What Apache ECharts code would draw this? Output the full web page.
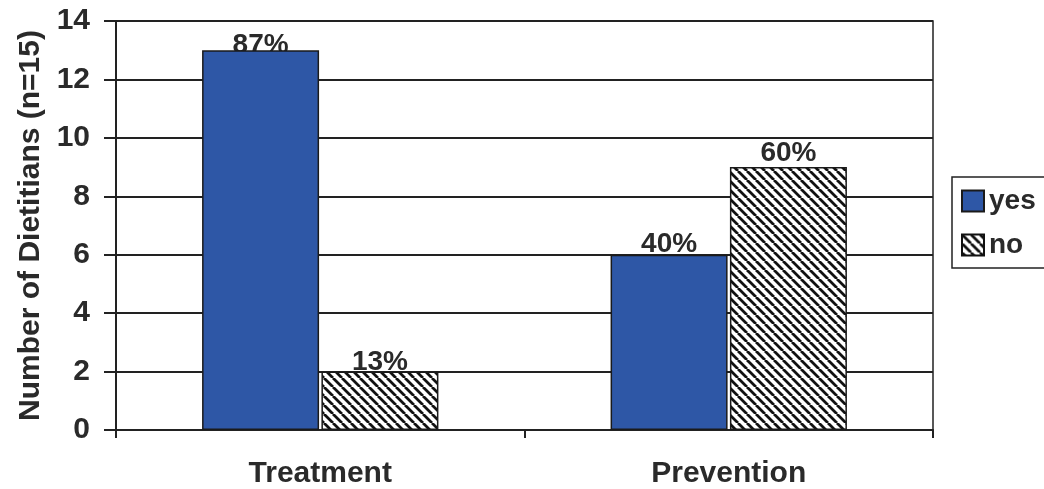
<!DOCTYPE html>
<html>
<head>
<meta charset="utf-8">
<script src="https://cdn.jsdelivr.net/npm/echarts@6/dist/echarts.min.js"></script>
<style>
  html, body { margin: 0; padding: 0; background: #fff; }
  #chart { width: 1044px; height: 489px; }
</style>
</head>
<body>
<div id="chart"></div>
<script>
// Survey counts: dietitians reporting yes / no per area
const categories = ['Treatment', 'Prevention'];
const yesValues = [13, 6];
const noValues = [2, 9];
const yesLabels = ['87%', '40%'];
const noLabels = ['13%', '60%'];
const yTicks = [0, 2, 4, 6, 8, 10, 12, 14];

// label offsets (px) relative to each bar top; negative tucks the text behind the bar
const yesLabelShift = [-9, -4];
const noLabelShift = [-5, 0];

// Diagonal hatch fill for the "no" series
function hatchPattern() {
  const s = 9;
  const c = document.createElement('canvas');
  c.width = s; c.height = s;
  const g = c.getContext('2d');
  g.fillStyle = '#fff';
  g.fillRect(0, 0, s, s);
  g.strokeStyle = '#111';
  g.lineWidth = 2.8;
  g.beginPath();
  for (let k = -1; k <= 1; k++) {
    g.moveTo(k * s, 0);
    g.lineTo(k * s + s, s);
  }
  g.stroke();
  return c;
}

const FONT = 'Liberation Sans, Arial, sans-serif';
const textColor = '#2a2a2a';
const lineColor = '#222';
const hatch = { image: hatchPattern(), repeat: 'repeat' };
const BAR_W = 117;
const GAP = '2%';

function labelItems(values, texts, shifts) {
  return values.map((v, i) => ({
    value: v,
    label: { formatter: texts[i], distance: shifts[i] }
  }));
}

const labelStyle = {
  show: true, position: 'top',
  fontFamily: FONT, fontWeight: 'bold', fontSize: 28, color: textColor
};

const chart = echarts.init(document.getElementById('chart'), null, { renderer: 'canvas' });

chart.setOption({
  animation: false,
  backgroundColor: '#fff',
  grid: {
    left: 116, right: 111, top: 21, bottom: 59,
    show: true, borderColor: lineColor, borderWidth: 1.5
  },
  legend: {
    orient: 'vertical',
    left: 952, top: 177,
    padding: [10, 40, 9, 9],
    itemWidth: 22, itemHeight: 21,
    itemGap: 16,
    borderColor: lineColor, borderWidth: 1.5,
    textStyle: { fontFamily: FONT, fontWeight: 'bold', fontSize: 28, lineHeight: 24, color: textColor },
    data: [
      { name: 'yes', icon: 'rect' },
      { name: 'no', icon: 'rect', itemStyle: { borderColor: '#111', borderWidth: 2 } }
    ]
  },
  xAxis: [
    {
      type: 'category',
      data: categories,
      axisLine: { show: true, lineStyle: { color: lineColor, width: 2 } },
      axisTick: { show: true, alignWithLabel: false, length: 8, lineStyle: { color: lineColor, width: 2 } },
      axisLabel: { fontFamily: FONT, fontWeight: 'bold', fontSize: 30, color: textColor, margin: 29 }
    },
    {
      // twin axis carrying the value labels, drawn beneath the bars
      type: 'category',
      data: categories,
      show: false
    }
  ],
  yAxis: {
    type: 'value',
    min: yTicks[0], max: yTicks[yTicks.length - 1], interval: 2,
    name: 'Number of Dietitians (n=15)',
    nameLocation: 'middle',
    nameGap: 70,
    nameTextStyle: { fontFamily: FONT, fontWeight: 'bold', fontSize: 30, color: textColor },
    axisLine: { show: true, lineStyle: { color: lineColor, width: 2 } },
    axisTick: { show: true, length: 12, lineStyle: { color: lineColor, width: 2 } },
    axisLabel: { fontFamily: FONT, fontWeight: 'bold', fontSize: 30, color: textColor, margin: 26 },
    splitLine: { show: true, lineStyle: { color: lineColor, width: 2 } }
  },
  series: [
    {
      name: 'yes-label',
      type: 'bar',
      xAxisIndex: 1,
      z: 1,
      data: labelItems(yesValues, yesLabels, yesLabelShift),
      barWidth: BAR_W, barGap: GAP,
      itemStyle: { color: 'rgba(0,0,0,0)' },
      label: labelStyle,
      silent: true
    },
    {
      name: 'no-label',
      type: 'bar',
      xAxisIndex: 1,
      z: 1,
      data: labelItems(noValues, noLabels, noLabelShift),
      barWidth: BAR_W,
      itemStyle: { color: 'rgba(0,0,0,0)' },
      label: labelStyle,
      silent: true
    },
    {
      name: 'yes',
      type: 'bar',
      z: 5,
      data: yesValues,
      barWidth: BAR_W,
      barGap: GAP,
      itemStyle: { color: '#2e57a6', borderColor: '#1a1a1a', borderWidth: 1.5 }
    },
    {
      name: 'no',
      type: 'bar',
      z: 5,
      data: noValues,
      barWidth: BAR_W,
      itemStyle: { color: hatch, borderColor: '#1a1a1a', borderWidth: 1.5 }
    }
  ]
});
</script>
</body>
</html>
